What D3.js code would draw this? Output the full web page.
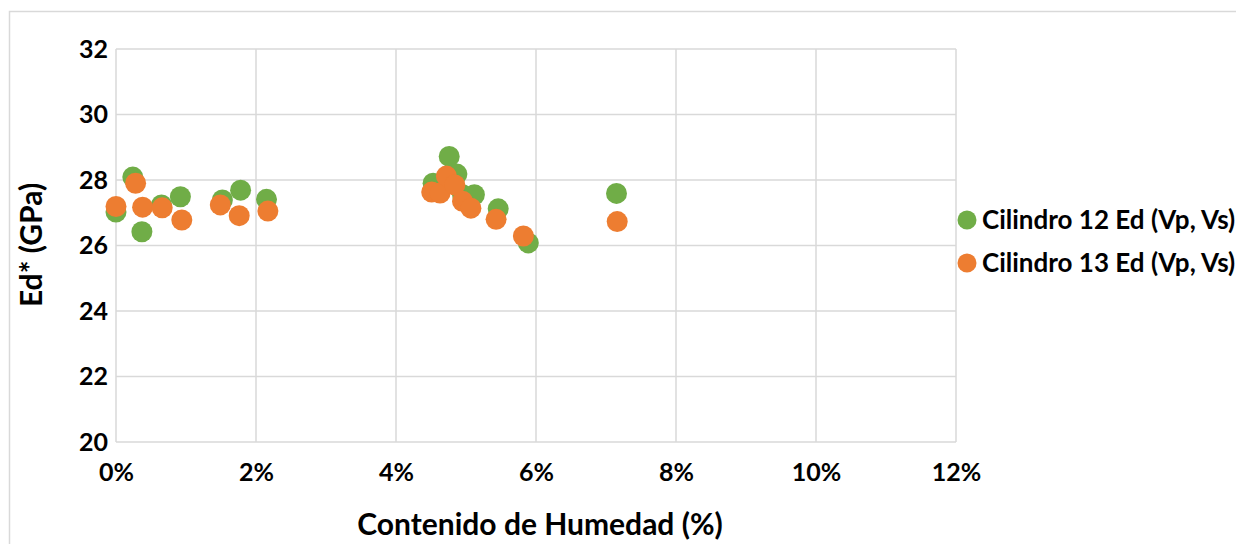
<!DOCTYPE html>
<html>
<head>
<meta charset="utf-8">
<script src="https://cdn.jsdelivr.net/npm/d3@7"></script>
<style>
  html, body { margin: 0; padding: 0; background: #fff; }
  svg { display: block; font-family: Lato, "Open Sans", sans-serif; font-weight: bold; }
</style>
</head>
<body>
<svg id="chart" width="1236" height="544"></svg>
<script>
// Moisture content (fraction) and dynamic modulus Ed* (GPa) for two cylinders
const seriesNames = ["Cilindro 12 Ed (Vp, Vs)", "Cilindro 13 Ed (Vp, Vs)"];
const seriesColors = ["#70AD47", "#ED7D31"];

const c12Humedad = [0.0000, 0.0024, 0.0037, 0.0065, 0.0092, 0.0152, 0.0178, 0.0215,
                    0.0453, 0.0463, 0.0476, 0.0487, 0.0495, 0.0512, 0.0546, 0.0589, 0.0715];
const c12Ed      = [27.02, 28.09, 26.42, 27.24, 27.49, 27.39, 27.69, 27.41,
                    27.90, 27.80, 28.72, 28.18, 27.55, 27.55, 27.12, 26.08, 27.59];

const c13Humedad = [0.0000, 0.0028, 0.0038, 0.0066, 0.0094, 0.0149, 0.0176, 0.0217,
                    0.0451, 0.0463, 0.0472, 0.0484, 0.0495, 0.0507, 0.0543, 0.0582, 0.0716];
const c13Ed      = [27.19, 27.90, 27.17, 27.15, 26.78, 27.24, 26.91, 27.05,
                    27.63, 27.60, 28.12, 27.85, 27.35, 27.14, 26.80, 26.29, 26.73];

const xTicks = [0, 0.02, 0.04, 0.06, 0.08, 0.10, 0.12];
const yTicks = [20, 22, 24, 26, 28, 30, 32];

const svg = d3.select("#chart");

// outer chart frame
svg.append("rect")
  .attr("x", 9.5).attr("y", 11.5)
  .attr("width", 1400).attr("height", 700)
  .attr("fill", "none").attr("stroke", "#d9d9d9").attr("stroke-width", 1.5);

const x = d3.scaleLinear().domain([0, 0.12]).range([116, 956]);
const y = d3.scaleLinear().domain([20, 32]).range([442, 49]);

const grid = svg.append("g").attr("stroke", "#d9d9d9").attr("stroke-width", 1.5);
grid.selectAll("line.v").data(xTicks).join("line")
  .attr("x1", d => x(d)).attr("x2", d => x(d))
  .attr("y1", y(32)).attr("y2", y(20));
grid.selectAll("line.h").data(yTicks).join("line")
  .attr("x1", x(0)).attr("x2", x(0.12))
  .attr("y1", d => y(d)).attr("y2", d => y(d));

// axes (labels only; lines come from the grid)
const xAxis = svg.append("g")
  .attr("transform", `translate(0,${y(20)})`)
  .call(d3.axisBottom(x).tickValues(xTicks).tickSize(0).tickPadding(21)
        .tickFormat(d3.format(".0%")));
const yAxis = svg.append("g")
  .attr("transform", `translate(${x(0)},0)`)
  .call(d3.axisLeft(y).tickValues(yTicks).tickSize(0).tickPadding(8));
[xAxis, yAxis].forEach(g => {
  g.select(".domain").remove();
  g.selectAll("text")
    .attr("font-family", "Lato, 'Open Sans', sans-serif")
    .attr("font-weight", "bold")
    .attr("font-size", 25)
    .attr("fill", "#000");
});

// axis titles
svg.append("text")
  .attr("x", 540).attr("y", 535)
  .attr("text-anchor", "middle")
  .attr("font-size", 30).attr("fill", "#000")
  .text("Contenido de Humedad (%)");
svg.append("text")
  .attr("transform", "translate(42,245) rotate(-90)")
  .attr("text-anchor", "middle")
  .attr("font-size", 30).attr("fill", "#000")
  .text("Ed* (GPa)");

// points: cylinder 12 first, cylinder 13 on top
const series = [
  { xs: c12Humedad, ys: c12Ed },
  { xs: c13Humedad, ys: c13Ed }
];
series.forEach((s, i) => {
  svg.append("g").selectAll("circle")
    .data(s.xs.map((h, k) => [h, s.ys[k]]))
    .join("circle")
    .attr("cx", d => x(d[0]))
    .attr("cy", d => y(d[1]))
    .attr("r", 10.5)
    .attr("fill", seriesColors[i]);
});

// legend
const legend = svg.append("g");
seriesNames.forEach((name, i) => {
  const ly = 220 + i * 43;
  legend.append("circle")
    .attr("cx", 967).attr("cy", ly).attr("r", 9.5)
    .attr("fill", seriesColors[i]);
  legend.append("text")
    .attr("x", 982).attr("y", ly + 9)
    .attr("font-size", 26).attr("fill", "#000")
    .text(name);
});
</script>
</body>
</html>
